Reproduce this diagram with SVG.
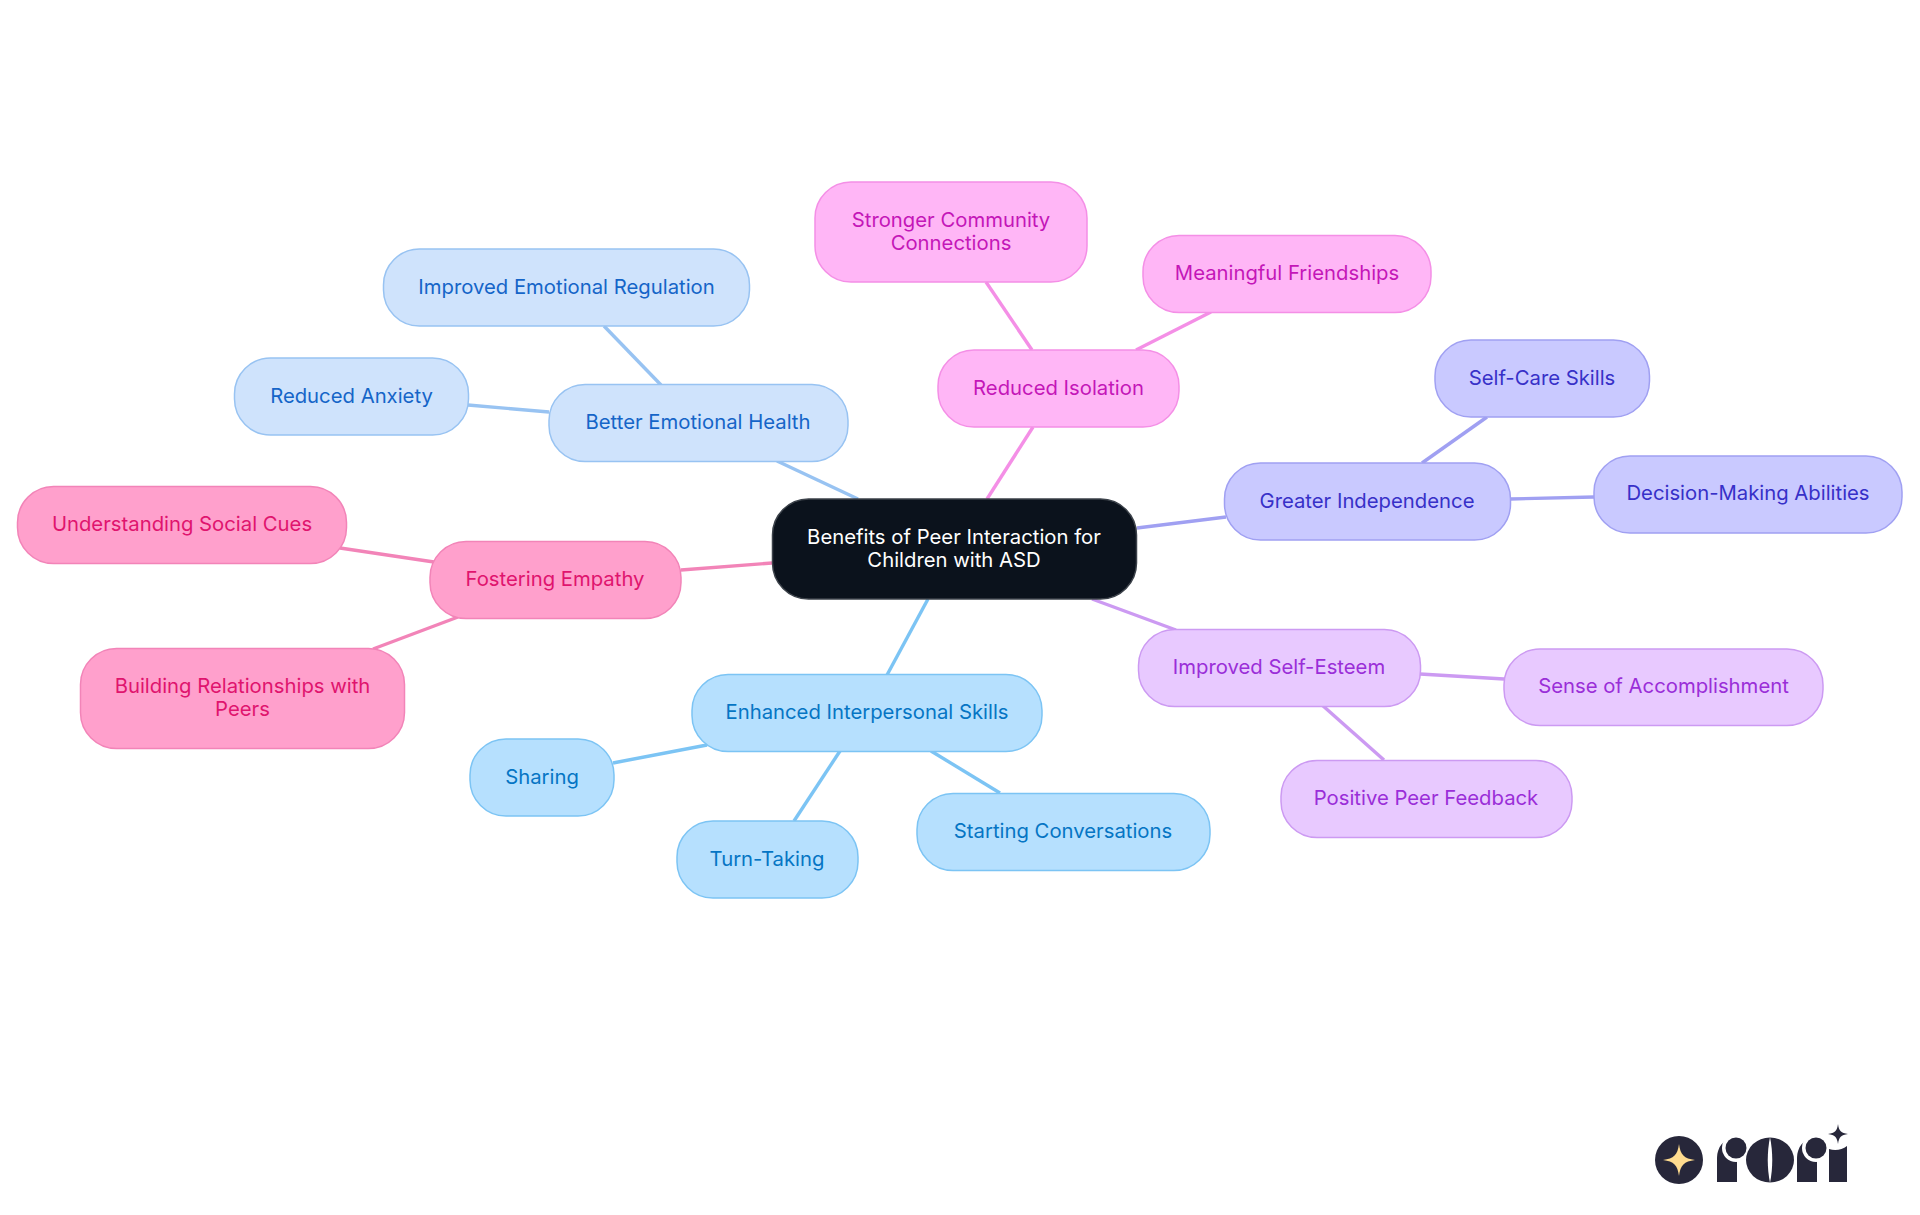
<svg xmlns="http://www.w3.org/2000/svg" width="1920" height="1215" viewBox="0 0 1920 1215">
<style>
text{font-family:"Inter","Noto Sans",sans-serif;font-size:20.3px;text-anchor:middle;stroke:none}
rect{stroke-width:1.5}
#connectors line{stroke-width:3.4;fill:none}
.r rect{fill:#0b121c;stroke:#3c424a}.r text{fill:#fff}
.a rect{fill:#b6e0fe;stroke:#7cc4f4}.a text{fill:#0575c4}
.b rect{fill:#cfe3fc;stroke:#98c3f2}.b text{fill:#1565c8}
.c rect{fill:#ffa0cc;stroke:#f284b8}.c text{fill:#e0146e}
.d rect{fill:#ffb6f6;stroke:#f48fe6}.d text{fill:#c416b8}
.e rect{fill:#c9c9ff;stroke:#a0a0f2}.e text{fill:#3730c8}
.f rect{fill:#e8c9ff;stroke:#cc9af2}.f text{fill:#9a2ed8}
.la{stroke:#7cc4f4}.lb{stroke:#98c3f2}.lc{stroke:#f284b8}.ld{stroke:#f48fe6}.le{stroke:#a0a0f2}.lf{stroke:#cc9af2}
</style>
<rect width="1920" height="1215" fill="#fff" style="stroke:none"/>
<g id="connectors">
<line class="lb" x1="777" y1="461" x2="858" y2="499"/>
<line class="lb" x1="661" y1="385" x2="604" y2="326"/>
<line class="lb" x1="549" y1="412" x2="468" y2="405"/>
<line class="ld" x1="987" y1="499" x2="1033" y2="427"/>
<line class="ld" x1="1032" y1="350" x2="986" y2="282"/>
<line class="ld" x1="1136" y1="350" x2="1211" y2="312"/>
<line class="le" x1="1137" y1="528" x2="1226" y2="517"/>
<line class="le" x1="1422" y1="463" x2="1487" y2="417"/>
<line class="le" x1="1510" y1="499" x2="1594" y2="497"/>
<line class="lf" x1="1092" y1="599" x2="1176" y2="630"/>
<line class="lf" x1="1420" y1="674" x2="1504" y2="679"/>
<line class="lf" x1="1322" y1="705" x2="1384" y2="760"/>
<line class="la" x1="928" y1="599" x2="887" y2="675"/>
<line class="la" x1="707" y1="745" x2="613" y2="763"/>
<line class="la" x1="840" y1="751" x2="794" y2="821"/>
<line class="la" x1="931" y1="751" x2="1000" y2="793"/>
<line class="lc" x1="772" y1="563" x2="681" y2="570"/>
<line class="lc" x1="434" y1="562" x2="340" y2="548"/>
<line class="lc" x1="458" y1="617" x2="373" y2="649"/>
</g>
<g id="root" class="r"><rect x="772.500" y="499" width="364" height="100" rx="36"/><text x="954" y="543.500">Benefits of Peer Interaction for</text><text x="954" y="566.500">Children with ASD</text></g>
<g id="n-enhanced" class="a"><rect x="692" y="674.500" width="350" height="77" rx="36"/><text x="867" y="719">Enhanced Interpersonal Skills</text></g>
<g id="n-sharing" class="a"><rect x="470" y="739" width="144" height="77" rx="36"/><text x="542" y="783.500">Sharing</text></g>
<g id="n-turn" class="a"><rect x="677" y="821" width="181" height="77" rx="36"/><text x="767" y="865.500">Turn-Taking</text></g>
<g id="n-starting" class="a"><rect x="917" y="793.500" width="293" height="77" rx="36"/><text x="1063" y="838">Starting Conversations</text></g>
<g id="n-emotional" class="b"><rect x="549" y="384.500" width="299" height="77" rx="36"/><text x="698" y="429">Better Emotional Health</text></g>
<g id="n-regulation" class="b"><rect x="383.500" y="249" width="366" height="77" rx="36"/><text x="566.500" y="293.500">Improved Emotional Regulation</text></g>
<g id="n-anxiety" class="b"><rect x="234.500" y="358" width="234" height="77" rx="36"/><text x="351.500" y="402.500">Reduced Anxiety</text></g>
<g id="n-empathy" class="c"><rect x="430" y="541.500" width="251" height="77" rx="36"/><text x="555" y="586">Fostering Empathy</text></g>
<g id="n-cues" class="c"><rect x="17.500" y="486.500" width="329" height="77" rx="36"/><text x="182" y="531">Understanding Social Cues</text></g>
<g id="n-relationships" class="c"><rect x="80.500" y="648.500" width="324" height="100" rx="36"/><text x="242.500" y="693">Building Relationships with</text><text x="242.500" y="716">Peers</text></g>
<g id="n-isolation" class="d"><rect x="938" y="350" width="241" height="77" rx="36"/><text x="1058.500" y="394.500">Reduced Isolation</text></g>
<g id="n-community" class="d"><rect x="815" y="182" width="272" height="100" rx="36"/><text x="951" y="226.500">Stronger Community</text><text x="951" y="249.500">Connections</text></g>
<g id="n-friendships" class="d"><rect x="1143" y="235.500" width="288" height="77" rx="36"/><text x="1287" y="280">Meaningful Friendships</text></g>
<g id="n-independence" class="e"><rect x="1224.500" y="463" width="286" height="77" rx="36"/><text x="1367" y="507.500">Greater Independence</text></g>
<g id="n-selfcare" class="e"><rect x="1435" y="340" width="214.500" height="77" rx="36"/><text x="1542" y="384.500">Self-Care Skills</text></g>
<g id="n-decision" class="e"><rect x="1594" y="456" width="308" height="77" rx="36"/><text x="1748" y="500">Decision-Making Abilities</text></g>
<g id="n-esteem" class="f"><rect x="1138.500" y="629.500" width="282" height="77" rx="36"/><text x="1279" y="674">Improved Self-Esteem</text></g>
<g id="n-accomplishment" class="f"><rect x="1504" y="649" width="319" height="76.500" rx="36"/><text x="1663.500" y="693">Sense of Accomplishment</text></g>
<g id="n-feedback" class="f"><rect x="1281" y="760.500" width="291" height="77" rx="36"/><text x="1426" y="805">Positive Peer Feedback</text></g>
<g id="logo" fill="#27273a">
<circle cx="1679" cy="1160" r="24"/>
<path fill="#ffdc8f" d="M1679 1144C1680.500 1155 1684 1158.500 1695 1160C1684 1161.500 1680.500 1165 1679 1176C1677.500 1165 1674 1161.500 1663 1160C1674 1158.500 1677.500 1155 1679 1144Z"/>
<path d="M1717 1182V1158C1717 1147 1724 1139 1733 1138H1737V1182Z"/>
<circle cx="1736" cy="1148" r="14" fill="#fff"/>
<circle cx="1736" cy="1148" r="10.500"/>
<ellipse cx="1770" cy="1160" rx="24" ry="22.500"/>
<path fill="#fff" d="M1770 1137C1767 1152 1767 1168 1770 1183C1773 1168 1773 1152 1770 1137Z"/>
<path d="M1797 1182V1158C1797 1147 1804 1139 1813 1138H1817V1182Z"/>
<circle cx="1816" cy="1148" r="14" fill="#fff"/>
<circle cx="1816" cy="1148" r="10.500"/>
<path d="M1829 1182V1149C1835 1151 1842 1150 1847 1146V1182Z"/>
<path d="M1838 1124C1839 1131 1841 1133 1848 1134C1841 1135 1839 1137 1838 1144C1837 1137 1835 1135 1828 1134C1835 1133 1837 1131 1838 1124Z"/>
</g>
</svg>
